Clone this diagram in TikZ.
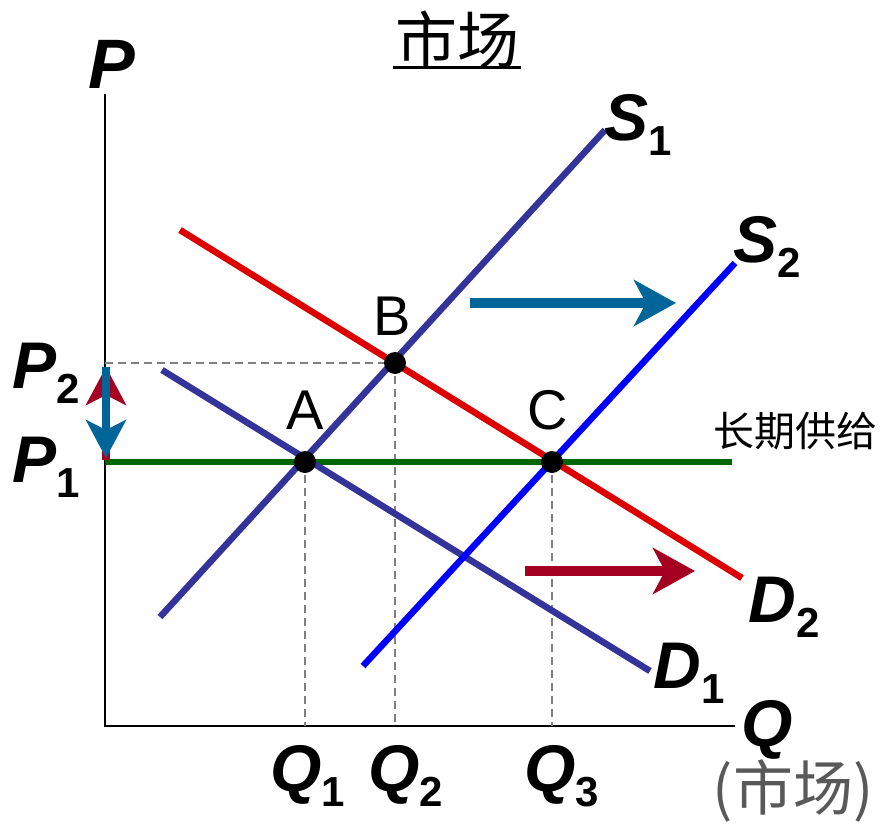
\documentclass[tikz,border=0pt]{standalone}
\usepackage{fontspec}
\setmainfont{Liberation Sans}
\newfontfamily\cjk{Noto Sans CJK SC}
\usetikzlibrary{arrows.meta}
\definecolor{indigo}{HTML}{333399}
\definecolor{pureblue}{HTML}{0000FF}
\definecolor{dred}{HTML}{DD0000}
\definecolor{dgreen}{HTML}{006600}
\definecolor{teal}{HTML}{006699}
\definecolor{wine}{HTML}{A50021}
\newcommand{\biglab}[2]{{\fontsize{66}{66}\selectfont\bfseries\itshape #1}\raisebox{-15pt}{\fontsize{42}{42}\selectfont\bfseries #2}}
\begin{document}
\begin{tikzpicture}[x=1pt,y=-1pt,
  curve/.style={line width=6.5pt},
  axis/.style={line width=2pt,black},
  guide/.style={gray,line width=1.5pt,dash pattern=on 8pt off 5pt},
  dot/.style={circle,fill=black,inner sep=0pt,minimum size=22pt},
  ptlab/.style={font=\fontsize{56}{56}\selectfont},
  shiftarrow/.style={line width=10pt,-{Stealth[length=42pt,width=46pt,inset=12pt]}},
  varrow/.style={line width=8pt,-{Stealth[length=38pt,width=40pt,inset=10pt]}}
]
\useasboundingbox (0,0) rectangle (894,824);
% axes
\coordinate (O) at (105,726);
\coordinate (Ytop) at (105,94);
\coordinate (Xend) at (735,726);
\draw[axis] (Ytop) -- (O) -- (Xend);
% coordinates
\coordinate (S1a) at (160,617); \coordinate (S1b) at (605,130);
\coordinate (S2a) at (363,666); \coordinate (S2b) at (735,263);
\coordinate (D2a) at (180,230); \coordinate (D2b) at (742,578);
\coordinate (D1a) at (162,370); \coordinate (D1b) at (650,671);
\coordinate (LRa) at (105,462); \coordinate (LRb) at (732,462);
\coordinate (P2y) at (105,363);
\coordinate (Aq) at (305,726); \coordinate (Bq) at (395,726); \coordinate (Cq) at (552,726);
% guides
\draw[guide] (P2y) -- (395,363);
\draw[guide] (305,462) -- (Aq);
\draw[guide] (395,363) -- (Bq);
\draw[guide] (552,462) -- (Cq);
% curves
\draw[curve,dgreen] (LRa) -- (LRb);
\draw[curve,indigo] (D1a) -- (D1b);
\draw[curve,dred] (D2a) -- (D2b);
\draw[curve,indigo] (S1a) -- (S1b);
\draw[curve,pureblue] (S2a) -- (S2b);
% points
\node[dot] (A) at (305,462) {};
\node[dot] (B) at (395,363) {};
\node[dot] (C) at (552,462) {};
\node[ptlab] (Alab) at (305,410) {A};
\node[ptlab] (Blab) at (392,316) {B};
\node[ptlab] (Clab) at (548,410) {C};
% shift arrows
\coordinate (T1) at (470,303); \coordinate (T2) at (676,303);
\draw[shiftarrow,teal] (T1) -- (T2);
\coordinate (R1) at (525,571); \coordinate (R2) at (695,571);
\draw[shiftarrow,wine] (R1) -- (R2);
% vertical arrows
\coordinate (VR1) at (106,460); \coordinate (VR2) at (106,367);
\coordinate (VB1) at (106,367); \coordinate (VB2) at (106,458);
\draw[varrow,wine] (VR1) -- (VR2);
\draw[varrow,teal] (VB1) -- (VB2);
% labels
\node (Plab) at (112,64) {\fontsize{70}{70}\selectfont\bfseries\itshape P};
\node[inner sep=0pt] (Qlab) at (767,730) {\fontsize{66}{66}\selectfont\bfseries\itshape Q};
\node (P2lab) at (46,373) {\biglab{P}{2}};
\node (P1lab) at (46,467) {\biglab{P}{1}};
\node (Q1lab) at (308,776) {\biglab{Q}{1}};
\node (Q2lab) at (406,776) {\biglab{Q}{2}};
\node (Q3lab) at (562,776) {\biglab{Q}{3}};
\node (S1lab) at (638,125) {\biglab{S}{1}};
\node (S2lab) at (767,247) {\biglab{S}{2}};
\node (D2lab) at (784,607) {\biglab{D}{2}};
\node (D1lab) at (689,673) {\biglab{D}{1}};
\node (LRlab) at (795,431) {\cjk\fontsize{41}{41}\selectfont 长期供给};
\node[text=black!65,inner sep=0pt] (mkt) at (793,791) {\cjk\fontsize{60}{60}\selectfont (市场)};
\node (title) at (457,40) {\cjk\fontsize{62}{62}\selectfont 市场};
\coordinate (U1) at (393,68); \coordinate (U2) at (521,68);
\draw[line width=3pt] (U1) -- (U2);
\end{tikzpicture}
\end{document}
